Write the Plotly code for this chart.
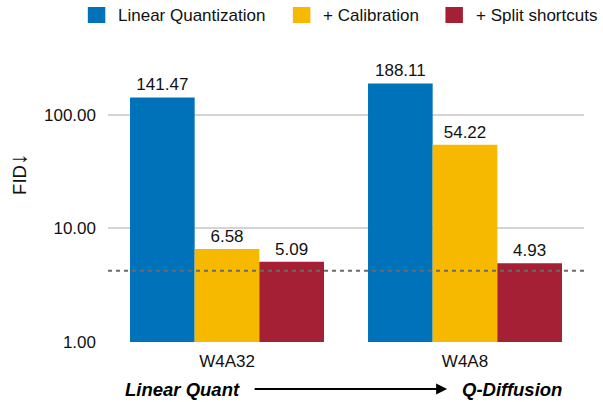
import plotly.graph_objects as go

# Data
settings = ["W4A32", "W4A8"]
series_names = ["Linear Quantization", "+ Calibration", "+ Split shortcuts"]
linear_quant = [141.47, 188.11]
calibration = [6.58, 54.22]
split_shortcuts = [5.09, 4.93]
baseline_fid = 4.24
y_tickvals = [1, 10, 100]

colors = ["#0072B9", "#F7B800", "#A51F35"]
series_values = [linear_quant, calibration, split_shortcuts]

FONT = "Liberation Sans, Arial, Helvetica, sans-serif"

W, H = 603, 402
M_L, M_R, M_T, M_B = 107.5, 19, 6, 60
PLOT_W = W - M_L - M_R
PLOT_H = H - M_T - M_B


def px_x(px):
    """page pixel x -> paper x"""
    return (px - M_L) / PLOT_W


def px_y(py):
    """page pixel y (from top) -> paper y"""
    return (H - M_B - py) / PLOT_H


fig = go.Figure()

for name, vals, col in zip(series_names, series_values, colors):
    fig.add_trace(go.Bar(
        x=settings, y=vals, name=name, marker_color=col, marker_line_width=0,
        text=[f"{v:.2f}" for v in vals], textposition="outside",
        textfont=dict(size=17, color="#111111", family=FONT),
        cliponaxis=False, showlegend=False,
    ))

# legend row across the top: swatch + label per series
legend_swatch_left = [87.3, 292.6, 445.3]
for left, name, col in zip(legend_swatch_left, series_names, colors):
    fig.add_shape(type="rect", xref="paper", yref="paper",
                  x0=px_x(left), x1=px_x(left + 17.5),
                  y0=px_y(23), y1=px_y(7),
                  fillcolor=col, line_width=0, layer="above")
    fig.add_annotation(xref="paper", yref="paper", x=px_x(left + 28.5),
                       y=px_y(15.5), xanchor="left", yanchor="middle",
                       text=name, showarrow=False,
                       font=dict(size=17, color="#111111", family=FONT))

# reference FID line
fig.add_shape(type="line", xref="paper", x0=0, x1=1, yref="y",
              y0=baseline_fid, y1=baseline_fid,
              line=dict(color="#6a6a6a", width=2, dash="4px,4px"))

# bottom progression arrow and labels
fig.add_annotation(xref="paper", yref="paper", x=px_x(447), y=px_y(389),
                   ax=-194, ay=0, axref="pixel", ayref="pixel",
                   text="", showarrow=True, arrowhead=2, arrowsize=1.1,
                   arrowwidth=2, arrowcolor="#000000", standoff=0)
for label, cx in [("Linear Quant", 181.7), ("Q-Diffusion", 512.2)]:
    fig.add_annotation(xref="paper", yref="paper", x=px_x(cx), y=px_y(389),
                       xanchor="center", yanchor="middle",
                       text=f"<b><i>{label}</i></b>", showarrow=False,
                       font=dict(size=18.5, color="#000000", family=FONT))

fig.update_layout(
    width=W, height=H,
    margin=dict(l=M_L, r=M_R, t=M_T, b=M_B, autoexpand=False),
    paper_bgcolor="white", plot_bgcolor="white",
    barmode="group", bargap=0.185, bargroupgap=0,
    font=dict(family=FONT, size=17, color="#111111"),
    showlegend=False,
    xaxis=dict(showgrid=False, showline=False, ticks="",
               tickfont=dict(size=17), ticklabelstandoff=7),
    yaxis=dict(type="log", range=[0, 2.955], tickvals=y_tickvals,
               tickformat=".2f", showgrid=True, gridcolor="#d4d4d4",
               gridwidth=1.5, zeroline=False, showline=False, ticks="",
               tickfont=dict(size=17), ticklabelstandoff=11,
               title=dict(text="FID<span style='font-size:24px'>↓</span>",
                          font=dict(size=18.5), standoff=12)),
)

fig.write_html("out.html")
